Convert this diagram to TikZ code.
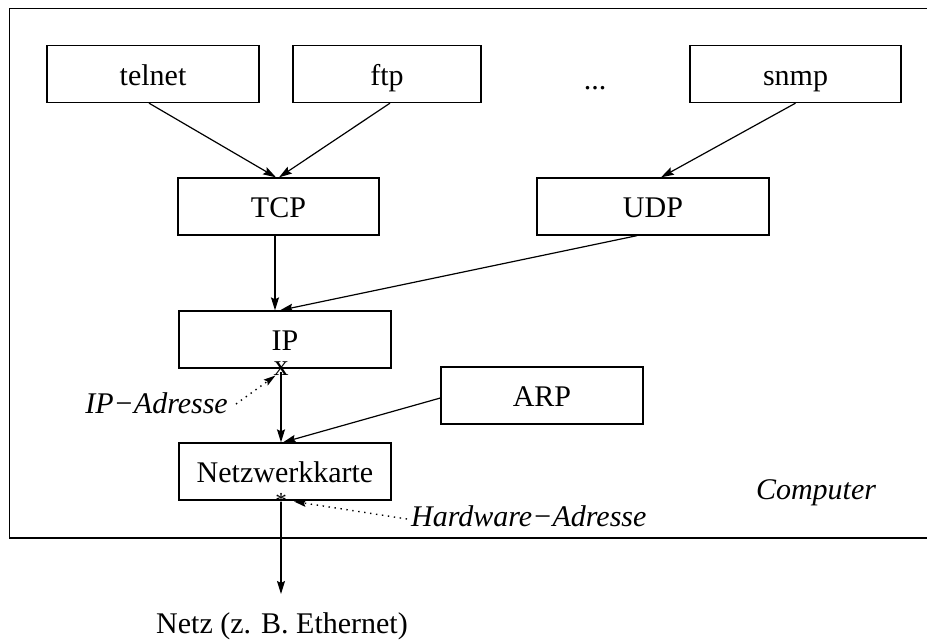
\documentclass[tikz,border=0pt]{standalone}
\usepackage{fontspec}
\setmainfont{Liberation Serif}
\usetikzlibrary{arrows.meta}
\begin{document}
\begin{tikzpicture}[x=1pt,y=-1pt,
  txt/.style={font=\fontsize{30}{36}\selectfont},
  layer/.style={draw, line width=1.3pt, inner sep=0pt, txt,
    text height=22pt, text depth=0pt, minimum height=57pt},
  flow/.style={line width=1.2pt, -{Stealth[length=13pt,width=8pt,inset=2pt]}},
  hint/.style={line width=1.4pt, dash pattern=on 1.4pt off 4.6pt,
    -{Stealth[length=12pt,width=7pt,inset=2pt]}},
  lbl/.style={inner sep=0pt, font=\fontsize{30}{36}\selectfont\itshape}]
\useasboundingbox (0,0) rectangle (927,640);
% computer frame, open to the right
\draw[line width=1.8pt] (935,8.5) -- (9.5,8.5) -- (9.5,538) -- (935,538);

% application layer
\node[layer, minimum width=212pt] (telnet) at (153,74) {telnet};
\node[layer, minimum width=188pt] (ftp)    at (387,74) {ftp};
\node[txt, inner sep=0pt, anchor=base] (dots) at (595,89) {...};
\node[layer, minimum width=211pt] (snmp)   at (795.5,74) {snmp};
% transport layer
\node[layer, minimum width=201pt] (tcp) at (278.5,206.5) {TCP};
\node[layer, minimum width=232pt] (udp) at (653,206.5) {UDP};
% network layer
\node[layer, minimum width=212pt] (ip)  at (285,339.5) {IP};
\node[layer, minimum width=202pt] (arp) at (542,395.5) {ARP};
\node[layer, minimum width=212pt] (nic) at (285,471.5) {Netzwerkkarte};

% address markers
\node[txt, inner sep=0pt, anchor=base, text height=13pt, text depth=0pt] (ipx) at (281,375) {x};
\coordinate (ipxtop) at (281,372);
\coordinate (ipxtip) at (275.5,375.5);
\node[inner sep=0pt, anchor=base, font=\fontsize{23}{23}\selectfont,
  text height=10pt, text depth=0pt] (hwx) at (281,508) {*};
\coordinate (hwxbot) at (281,502);
\coordinate (hwxtip) at (294,501.5);

% labels
\node[lbl, anchor=base east] (ipaddr) at (228,413) {IP−Adresse};
\node[lbl, anchor=base west] (hwaddr) at (411,526) {Hardware−Adresse};
\node[lbl, anchor=base] (comp) at (816,499) {Computer};
\node[txt, inner sep=0pt, anchor=base] (netz) at (282,633) {Netz (z. B. Ethernet)};
\coordinate (wire) at (281,594);
\coordinate (ipaddrend) at (236,404);
\coordinate (hwaddrend) at (407,519);

% data flow
\draw[flow] ([xshift=-4pt]telnet.south) -- ([xshift=-2.5pt]tcp.north);
\draw[flow] ([xshift=3pt]ftp.south) -- ([xshift=0.5pt]tcp.north);
\draw[flow] (snmp.south) -- ([xshift=8pt]udp.north);
\draw[flow] ([xshift=-3.5pt]tcp.south) -- ([xshift=-10pt]ip.north);
\draw[flow] ([xshift=-16pt]udp.south) -- ([xshift=-5pt]ip.north);
\draw[flow] (ipxtop) -- ([xshift=-4pt]nic.north);
\draw[flow] ([yshift=-2.5pt]arp.west) -- ([xshift=-2pt]nic.north);
\draw[flow] (hwxbot) -- (wire);

% address hints
\draw[hint] (ipaddrend) -- (ipxtip);
\draw[hint] (hwaddrend) -- (hwxtip);
\end{tikzpicture}
\end{document}
